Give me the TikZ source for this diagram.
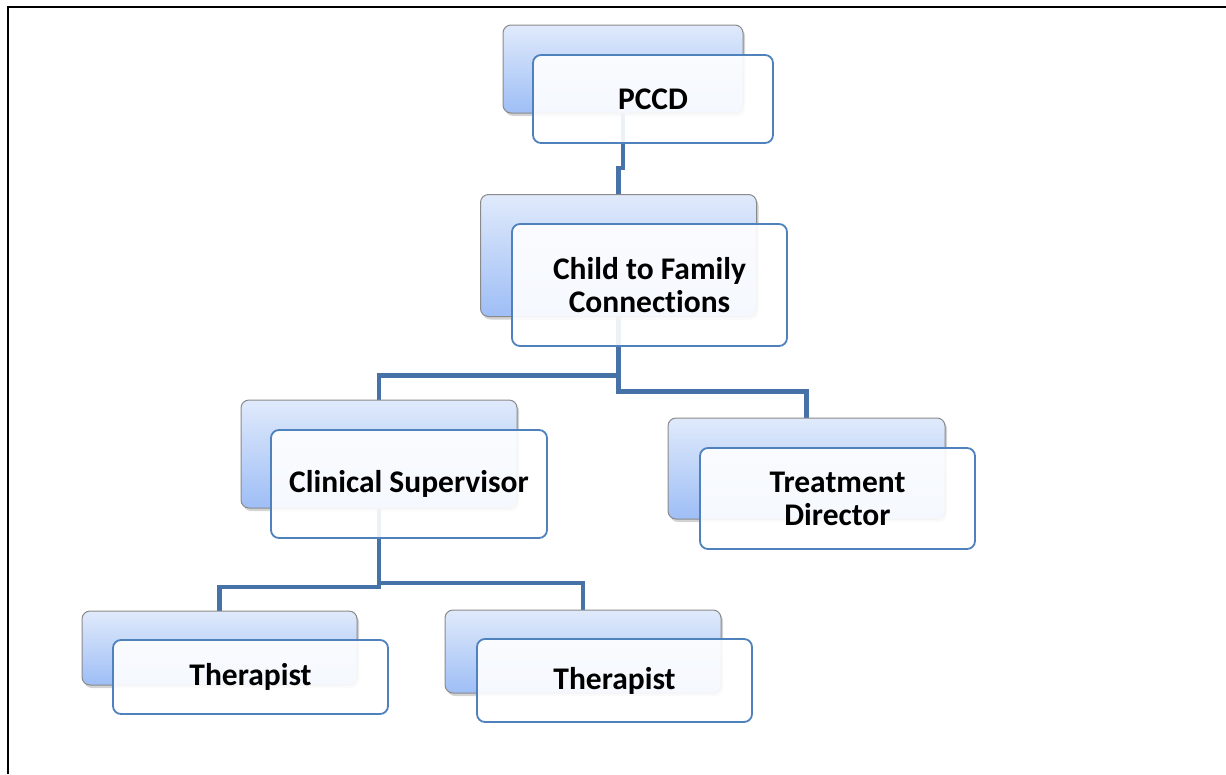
\documentclass[tikz,border=0pt]{standalone}
\usepackage{fontspec}
\setmainfont[Ligatures=NoCommon]{Carlito}
\usetikzlibrary{shadows,calc}
\pgfdeclarelayer{background}
\pgfsetlayers{background,main}
\definecolor{conn}{HTML}{4672A8}
\definecolor{frontline}{HTML}{4F81BD}
\definecolor{backtop}{HTML}{E0EAFB}
\definecolor{backbot}{HTML}{9EBEF6}
\definecolor{backline}{HTML}{8A8A8A}
\tikzset{
  backbox/.style={draw=backline, line width=1pt, rounded corners=8pt,
    top color=backtop, bottom color=backbot, outer sep=0pt, inner sep=0pt,
    drop shadow={opacity=0.35, shadow xshift=2pt, shadow yshift=-3pt}},
  frontbox/.style={draw=frontline, line width=1.8pt, rounded corners=8pt,
    fill=white, fill opacity=0.9, text opacity=1, outer sep=0pt, inner sep=0pt,
    align=center, font=\fontsize{31.5}{33}\selectfont\bfseries},
  connector/.style={draw=conn, line width=4.5pt},
}
\begin{document}
\begin{tikzpicture}[x=1pt,y=-1pt]
\useasboundingbox (0,0) rectangle (1226,774);
\draw[line width=2pt] (8,774) -- (8,7) -- (1226,7);
% back boxes
\node[backbox, minimum width=240pt, minimum height=88pt] (pccdB) at (623,69) {};
\node[backbox, minimum width=276pt, minimum height=122pt] (childB) at (618.5,255.5) {};
\node[backbox, minimum width=276pt, minimum height=108pt] (clinB) at (379,454) {};
\node[backbox, minimum width=277pt, minimum height=101pt] (treatB) at (806.5,468.5) {};
\node[backbox, minimum width=275pt, minimum height=74pt] (therLB) at (219.5,648) {};
\node[backbox, minimum width=276pt, minimum height=83pt] (therRB) at (583,651.5) {};
% front boxes
\node[frontbox, minimum width=240pt, minimum height=88pt] (pccd) at (653,99) {PCCD};
\node[frontbox, minimum width=275pt, minimum height=122pt] (child) at (649.5,285) {Child to Family\\Connections};
\node[frontbox, minimum width=276pt, minimum height=108pt] (clin) at (409,484) {Clinical Supervisor};
\node[frontbox, minimum width=275pt, minimum height=101pt] (treat) at (837.5,498.5) {Treatment\\Director};
\node[frontbox, minimum width=275pt, minimum height=74pt] (therL) at (250.5,677) {Therapist};
\node[frontbox, minimum width=275pt, minimum height=83pt] (therR) at (614.5,680.5) {Therapist};
% connectors
\begin{pgfonlayer}{background}
\draw[connector] (pccdB.south) -- ++(0,55) -| (childB.north);
\draw[connector] (childB.south) -- ++(0,59) -| (clinB.north);
\draw[connector] (childB.south) -- ++(0,75) -| (treatB.north);
\draw[connector] (clinB.south) -- ++(0,79) -| (therLB.north);
\draw[connector] (clinB.south) -- ++(0,75) -| (therRB.north);
\end{pgfonlayer}
\end{tikzpicture}
\end{document}
